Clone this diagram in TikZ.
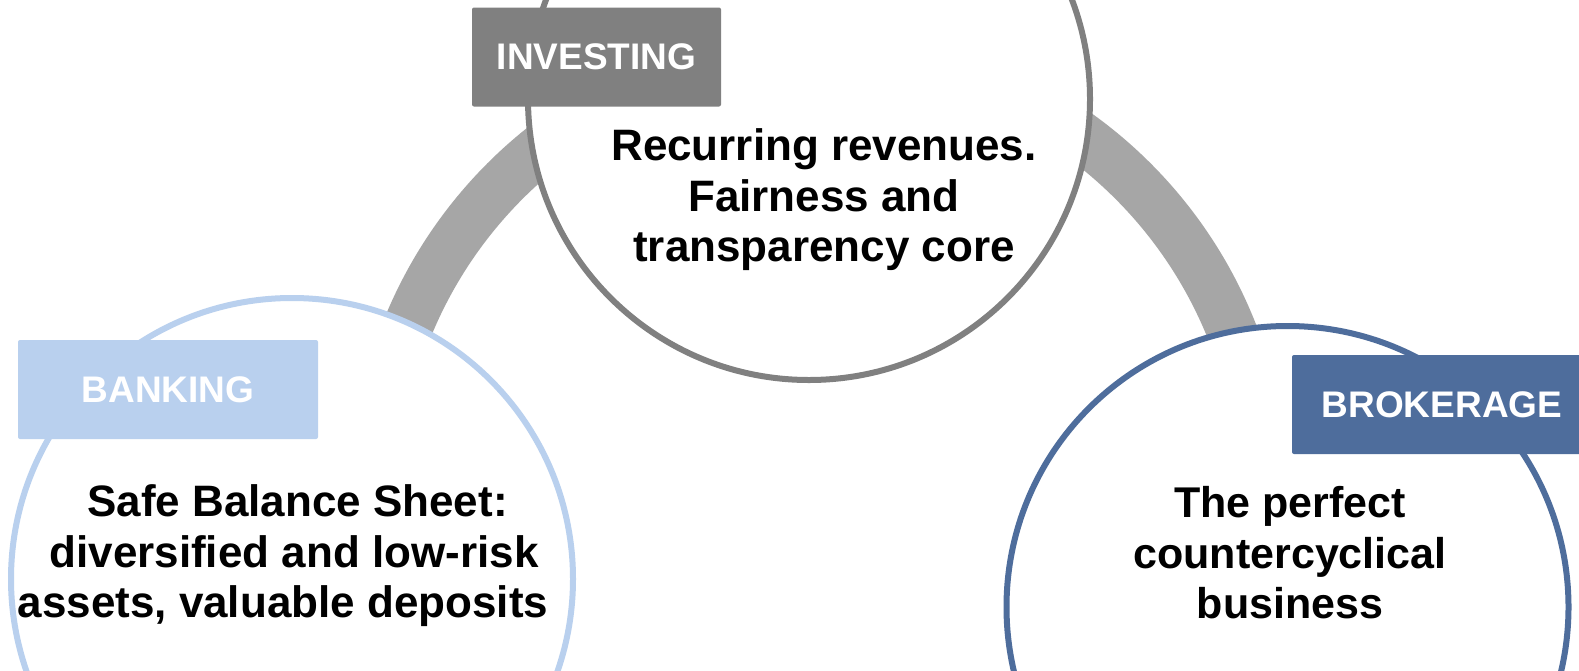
\documentclass[tikz,border=0pt]{standalone}
\usepackage{fontspec}
\setmainfont{Liberation Sans}
\definecolor{ringgray}{HTML}{A6A6A6}
\definecolor{invgray}{HTML}{808080}
\definecolor{bankblue}{HTML}{B9D0EE}
\definecolor{brokblue}{HTML}{4E6D9C}
\begin{document}
\begin{tikzpicture}[x=1pt,y=-1pt,
  bigcircle/.style={circle, minimum size=562pt, inner sep=0pt, line width=6pt, fill=white},
  labelbox/.style={rectangle, rounded corners=2pt, inner sep=0pt, minimum height=99pt,
    text=white, font=\fontsize{37}{40}\selectfont\bfseries},
  bodytext/.style={align=center, font=\fontsize{44}{50.5}\selectfont\bfseries, text=black, inner sep=0pt}]
\useasboundingbox (0,0) rectangle (1579,670);
\clip (0,0) rectangle (1579,670);
\fill[white] (0,0) rectangle (1579,670);
% ring
\coordinate (ringc) at (819,495);
\draw[ringgray, line width=50pt] (ringc) circle (444pt);
% circles
\node[bigcircle, draw=invgray] (inv) at (809,99) {};
\node[bigcircle, draw=bankblue] (bank) at (292,579) {};
\node[bigcircle, draw=brokblue] (brok) at (1287.5,607) {};
% body texts
\node[bodytext] (invtxt) at (824,200) {Recurring revenues.\\Fairness and\\transparency core};
\node[bodytext] (banktxt) at (294,556) {\hspace*{7pt}Safe Balance Sheet:\\diversified and low-risk\\assets, valuable deposits\hspace*{22pt}};
\node[bodytext, font=\fontsize{43}{50.5}\selectfont\bfseries] (broktxt) at (1290,553) {The perfect\\countercyclical\\business};
% label boxes
\node[labelbox, fill=invgray, minimum width=249pt] (invlab) at (596.5,57) {INVESTING};
\node[labelbox, fill=bankblue, minimum width=300pt] (banklab) at (168,389.5) {BANKING};
\node[labelbox, fill=brokblue, minimum width=300pt] (broklab) at (1442,404.5) {BROKERAGE};
\end{tikzpicture}
\end{document}
